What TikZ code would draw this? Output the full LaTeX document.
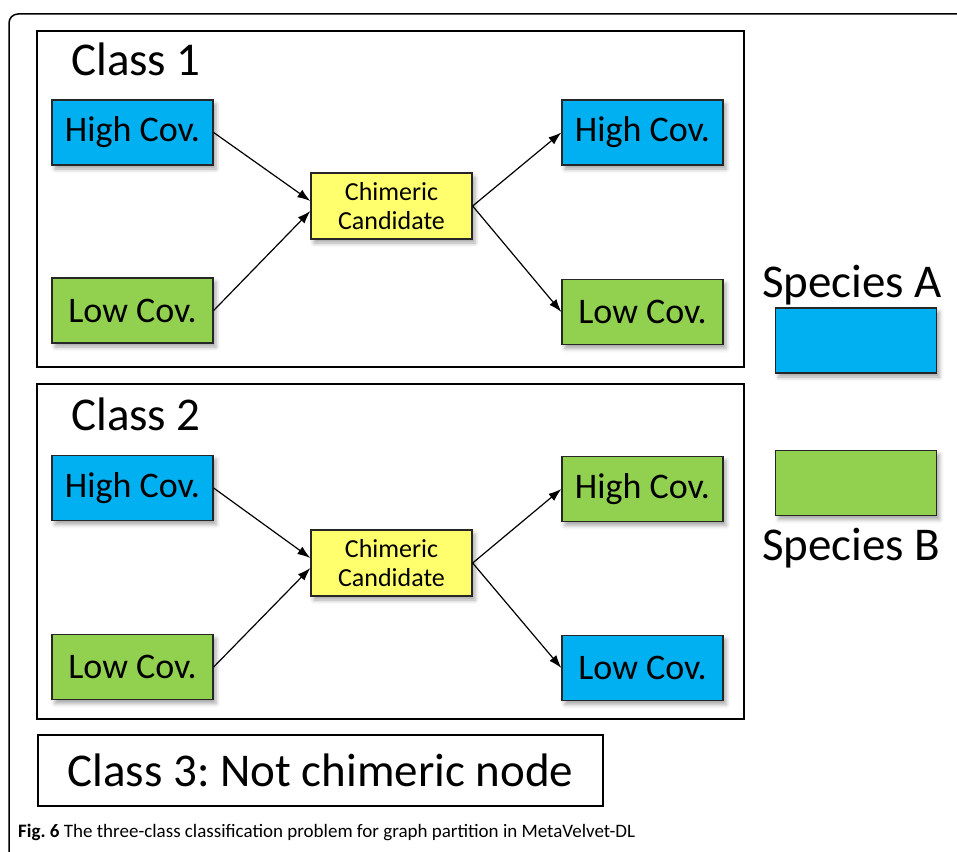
\documentclass[tikz,border=0pt]{standalone}
\usepackage{fontspec}
\setmainfont{Carlito}
\usepackage{tikz}
\usetikzlibrary{arrows.meta,shadows.blur}
\definecolor{cov_blue}{HTML}{00B0F0}
\definecolor{cov_green}{HTML}{92D050}
\definecolor{cand_yellow}{HTML}{FFFF6E}
\frenchspacing

\tikzset{
	covbox/.style={draw=black!85, line width=1.3pt, minimum width=161pt, minimum height=65pt,
		inner sep=0pt, font=\fontsize{36}{40}\selectfont,
		blur shadow={shadow xshift=3pt, shadow yshift=-4pt, shadow blur radius=4pt, shadow opacity=35}},
	candbox/.style={covbox, fill=cand_yellow, minimum height=66pt, align=center,
		font=\fontsize{26}{29}\selectfont},
	classlabel/.style={anchor=base west, inner sep=0pt, font=\fontsize{47}{50}\selectfont},
	classframe/.style={draw, line width=2pt},
	link/.style={->, line width=1.2pt}
}

\begin{document}
\begin{tikzpicture}[x=1pt, y=-1pt, >={Latex[length=13pt, width=9pt]}]
	\useasboundingbox (0, 0) rectangle (957, 851);
	% outer figure frame, only top and left edges show
	\draw[line width=1.5pt, rounded corners=9pt] (960, 14) -- (9, 14) -- (9, 860);

	% Class 1
	\draw[classframe] (37, 31) rectangle (744, 367);
	\node[classlabel] (lbl1) at (71, 75) {Class 1};
	\node[covbox, fill=cov_blue] (hiL1) at (132.5, 132.5) {High Cov.};
	\node[covbox, fill=cov_green] (loL1) at (132.5, 310.5) {Low Cov.};
	\node[candbox] (cand1) at (391.5, 206) {Chimeric\\Candidate};
	\node[covbox, fill=cov_blue] (hiR1) at (642.5, 132.5) {High Cov.};
	\node[covbox, fill=cov_green] (loR1) at (642.5, 312) {Low Cov.};
	\draw[link] (hiL1.east) -- ([yshift=5pt]cand1.west);
	\draw[link] (loL1.east) -- ([yshift=-5pt]cand1.west);
	\draw[link] (cand1.east) -- (hiR1.west);
	\draw[link] (cand1.east) -- (loR1.west);

	% Class 2
	\draw[classframe] (37, 384) rectangle (744, 719);
	\node[classlabel] (lbl2) at (71, 430) {Class 2};
	\node[covbox, fill=cov_blue] (hiL2) at (132.5, 488) {High Cov.};
	\node[covbox, fill=cov_green] (loL2) at (132.5, 667) {Low Cov.};
	\node[candbox] (cand2) at (391.5, 563) {Chimeric\\Candidate};
	\node[covbox, fill=cov_green] (hiR2) at (642.5, 489) {High Cov.};
	\node[covbox, fill=cov_blue] (loR2) at (642.5, 668) {Low Cov.};
	\draw[link] (hiL2.east) -- ([yshift=5pt]cand2.west);
	\draw[link] (loL2.east) -- ([yshift=-5pt]cand2.west);
	\draw[link] (cand2.east) -- (hiR2.west);
	\draw[link] (cand2.east) -- (loR2.west);

	% Class 3
	\node[draw, line width=1.2pt, minimum width=565pt, minimum height=71pt,
		font=\fontsize{47}{52}\selectfont] (cls3) at (320.5, 770.5) {Class 3: Not chimeric node};

	% species legend
	\node[classlabel] (spA) at (762, 297) {Species A};
	\node[covbox, fill=cov_blue] (keyA) at (856, 340.5) {};
	\node[covbox, fill=cov_green] (keyB) at (856, 483) {};
	\node[classlabel] (spB) at (762, 560) {Species B};

	% caption
	\node[anchor=base west, inner sep=0pt, font=\fontsize{19}{22}\selectfont] (cap) at (18, 837)
		{\textbf{Fig. 6} The three-class classification problem for graph partition in MetaVelvet-DL};
\end{tikzpicture}
\end{document}
